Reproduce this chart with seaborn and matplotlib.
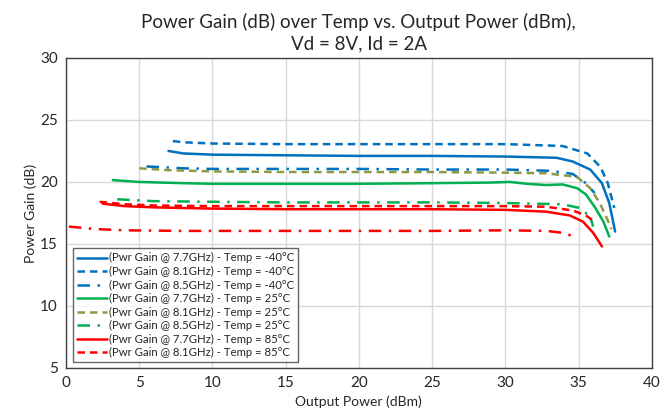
import matplotlib
matplotlib.use("Agg")
import matplotlib.pyplot as plt
import seaborn as sns

# Output power (dBm) and power gain (dB)
x_77_m40 = [7, 8, 10, 15, 20, 25, 30, 33.5, 34.6, 35.8, 36.6, 37.1, 37.5]
g_77_m40 = [22.5, 22.3, 22.2, 22.15, 22.1, 22.1, 22.05, 21.95, 21.65, 21.0, 19.9, 18.3, 16.0]
x_81_m40 = [7.3, 8, 10, 15, 20, 25, 30, 33.9, 35.6, 36.5, 37.0, 37.35, 37.45]
g_81_m40 = [23.3, 23.2, 23.1, 23.05, 23.05, 23.05, 23.05, 22.9, 22.3, 21.2, 19.9, 18.3, 17.9]
x_85_m40 = [5.5, 8, 10, 15, 20, 25, 30, 33, 34.6, 35.5, 36.1]
g_85_m40 = [21.25, 21.1, 21.05, 21.05, 21.05, 21.0, 21.0, 20.9, 20.65, 19.9, 19.1]
x_77_25 = [3.2, 5, 8, 10, 15, 20, 25, 29, 30.3, 31.5, 32.8, 33.9, 34.9, 35.5, 36.1, 36.7, 37.1]
g_77_25 = [20.15, 20.0, 19.9, 19.85, 19.85, 19.85, 19.9, 19.95, 20.0, 19.85, 19.75, 19.8, 19.5, 19.0, 18.0, 16.8, 15.6]
x_81_25 = [5, 7, 10, 15, 20, 25, 30, 32.8, 34.9, 35.8, 36.45, 37.0, 37.25]
g_81_25 = [21.1, 20.95, 20.85, 20.8, 20.8, 20.8, 20.75, 20.7, 20.4, 19.5, 18.3, 16.9, 16.2]
x_85_25 = [3.5, 6, 10, 15, 20, 25, 30, 33.9, 35.1, 35.8, 36.0]
g_85_25 = [18.6, 18.45, 18.4, 18.35, 18.35, 18.35, 18.3, 18.2, 17.9, 17.2, 16.4]
x_77_85 = [2.5, 4, 6, 10, 15, 20, 25, 30, 32.8, 34.4, 35.3, 36.0, 36.6]
g_77_85 = [18.25, 18.05, 17.95, 17.85, 17.8, 17.8, 17.8, 17.75, 17.6, 17.3, 16.8, 15.9, 14.8]
x_81_85 = [2.3, 4, 6, 10, 15, 20, 25, 30, 32.8, 34.6, 35.5, 36.1]
g_81_85 = [18.4, 18.2, 18.1, 18.05, 18.05, 18.05, 18.05, 18.05, 18.0, 17.7, 17.3, 16.8]
x_85_85 = [0.2, 2, 4, 8, 15, 20, 25, 30, 32.8, 33.9, 34.7]
g_85_85 = [16.4, 16.2, 16.1, 16.05, 16.05, 16.05, 16.05, 16.1, 16.05, 15.9, 15.6]

labels = [
    "(Pwr Gain @ 7.7GHz) - Temp = -40°C",
    "(Pwr Gain @ 8.1GHz) - Temp = -40°C",
    "(Pwr Gain @ 8.5GHz) - Temp = -40°C",
    "(Pwr Gain @ 7.7GHz) - Temp = 25°C",
    "(Pwr Gain @ 8.1GHz) - Temp = 25°C",
    "(Pwr Gain @ 8.5GHz) - Temp = 25°C",
    "(Pwr Gain @ 7.7GHz) - Temp = 85°C",
    "(Pwr Gain @ 8.1GHz) - Temp = 85°C",
    "_nolegend_",
]

blue, green, olive, red = "#0070C0", "#00B050", "#8C9A45", "#FF0000"
solid = "-"
dash = (0, (3, 2))
dashdot = (0, (5, 3, 1, 3))

series = [
    (x_77_m40, g_77_m40, blue, solid),
    (x_81_m40, g_81_m40, blue, dash),
    (x_85_m40, g_85_m40, blue, dashdot),
    (x_77_25, g_77_25, green, solid),
    (x_81_25, g_81_25, olive, dash),
    (x_85_25, g_85_25, green, dashdot),
    (x_77_85, g_77_85, red, solid),
    (x_81_85, g_81_85, red, dash),
    (x_85_85, g_85_85, red, dashdot),
]

sns.set_style("white")
plt.rcParams["font.family"] = ["Lato", "DejaVu Sans"]

fig = plt.figure(figsize=(6.63, 4.2), dpi=100)
ax = fig.add_axes([0.0995, 0.124, 0.8835, 0.738])

for (xs, ys, c, ls), lab in zip(series, labels):
    sns.lineplot(x=xs, y=ys, ax=ax, color=c, linestyle=ls, linewidth=1.8, label=lab)

ax.set_xlim(0, 40)
ax.set_ylim(5, 30)
ax.set_xticks(range(0, 41, 5))
ax.set_yticks(range(5, 31, 5))
ax.grid(True, color="#D9D9D9", linewidth=1)
ax.tick_params(axis="both", length=0, labelsize=11, pad=6)
for s in ax.spines.values():
    s.set_color("#404040")
    s.set_linewidth(1)

ax.set_xlabel("Output Power (dBm)", fontsize=10, labelpad=4)
ax.set_ylabel("Power Gain (dB)", fontsize=10, labelpad=2)
ax.set_title("Power Gain (dB) over Temp vs. Output Power (dBm),\nVd = 8V, Id = 2A",
             fontsize=13.5, pad=6, linespacing=1.3)

leg = ax.legend(loc="lower left", bbox_to_anchor=(0.012, 0.018), fontsize=8.2,
                frameon=True, fancybox=False, handlelength=2.6, handletextpad=0.2,
                labelspacing=0.22, borderpad=0.35, borderaxespad=0)
leg.get_frame().set_edgecolor("#404040")
leg.get_frame().set_linewidth(1)

fig.savefig("out.png", dpi=100)
